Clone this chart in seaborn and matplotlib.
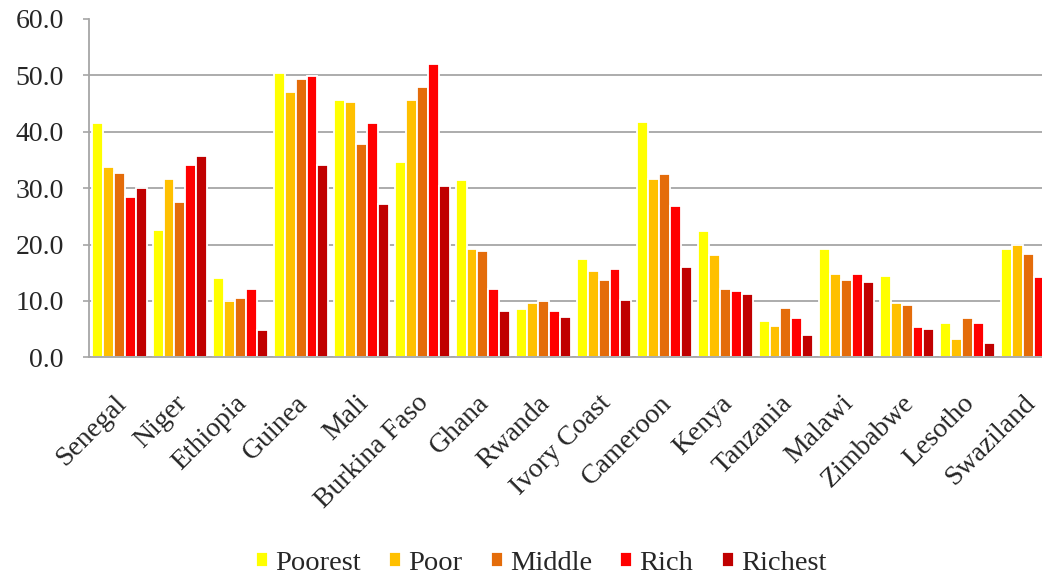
import matplotlib
matplotlib.use("Agg")
import matplotlib.pyplot as plt
import matplotlib.transforms as mtransforms
import numpy as np
import pandas as pd
import seaborn as sns

# Share of each wealth quintile, by country
countries = ["Senegal", "Niger", "Ethiopia", "Guinea", "Mali", "Burkina Faso",
             "Ghana", "Rwanda", "Ivory Coast", "Cameroon", "Kenya", "Tanzania",
             "Malawi", "Zimbabwe", "Lesotho", "Swaziland"]
groups = ["Poorest", "Poor", "Middle", "Rich", "Richest"]

poorest = [41.6, 22.6, 14.0, 50.5, 45.7, 34.7, 31.5, 8.5, 17.4, 41.8, 22.4, 6.5, 19.2, 14.5, 6.0, 19.2]
poor    = [33.8, 31.6,  9.9, 47.0, 45.3, 45.7, 19.2, 9.7, 15.3, 31.6, 18.1, 5.6, 14.7,  9.6, 3.3, 19.9]
middle  = [32.7, 27.5, 10.5, 49.3, 37.9, 48.0, 18.8, 9.9, 13.7, 32.5, 12.2, 8.7, 13.7,  9.2, 6.9, 18.3]
rich    = [28.4, 34.1, 12.1, 49.9, 41.6, 52.1, 12.1, 8.3, 15.6, 26.9, 11.7, 6.9, 14.7,  5.3, 6.0, 14.2]
richest = [30.0, 35.7,  4.9, 34.1, 27.2, 30.4,  8.3, 7.1, 10.1, 16.0, 11.2, 4.0, 13.3,  5.1, 2.6, 12.0]

colors = ["#FFFF00", "#FFC000", "#E46C0A", "#FF0000", "#C00000"]

series = [poorest, poor, middle, rich, richest]
df = pd.DataFrame({
    "country": np.repeat([countries], len(groups), axis=0).ravel(),
    "group": np.repeat(groups, len(countries)),
    "value": np.concatenate(series),
})

sns.set_theme(style="white")
serif = ["Liberation Serif", "DejaVu Serif"]
plt.rcParams["font.family"] = serif

W, H = 1042, 580
fig = plt.figure(figsize=(W / 100, H / 100), dpi=100)
# plot area runs past the right edge of the canvas
ax = fig.add_axes([89 / W, (H - 357.3) / H, 16 * 60.6 / W, (357.3 - 19) / H])

sns.barplot(data=df, x="country", y="value", hue="group", order=countries,
            hue_order=groups, palette=colors, width=0.9, saturation=1,
            edgecolor="white", linewidth=1.3, ax=ax, errorbar=None)

ax.set_xlim(-0.5, len(countries) - 0.5)
ax.set_ylim(0, 60)
ax.set_yticks(np.arange(0, 61, 10))
ax.set_yticklabels([f"{v:.1f}" for v in np.arange(0, 61, 10)], fontsize=20)
ax.set_xlabel("")
ax.set_ylabel("")

ax.yaxis.grid(True, color="#A6A6A6", linewidth=1.3)
ax.set_axisbelow(True)
ax.get_ygridlines()[-1].set_visible(False)
for side in ["top", "right"]:
    ax.spines[side].set_visible(False)
for side in ["left", "bottom"]:
    ax.spines[side].set_color("#A6A6A6")
    ax.spines[side].set_linewidth(1.3)

ax.tick_params(axis="y", which="major", left=True, length=4, width=1.2,
               color="#A6A6A6", pad=14)
ax.tick_params(axis="x", length=0, pad=6)

offset = mtransforms.ScaledTranslation(-6 / 100, -25 / 100, fig.dpi_scale_trans)
for lbl in ax.get_xticklabels():
    lbl.set_rotation(45)
    lbl.set_ha("right")
    lbl.set_va("top")
    lbl.set_rotation_mode("anchor")
    lbl.set_fontsize(20)
    lbl.set_transform(lbl.get_transform() + offset)

handles, labels = ax.get_legend_handles_labels()
if ax.get_legend() is not None:
    ax.get_legend().remove()
fig.legend(handles, labels, loc="center", bbox_to_anchor=(541 / W, 1 - 563 / H),
           ncol=5, frameon=False, prop={"family": serif, "size": 20.5},
           handlelength=0.42, handleheight=0.42, handletextpad=0.25,
           columnspacing=1.0, borderpad=0.1)

fig.savefig("out.png", dpi=100)
